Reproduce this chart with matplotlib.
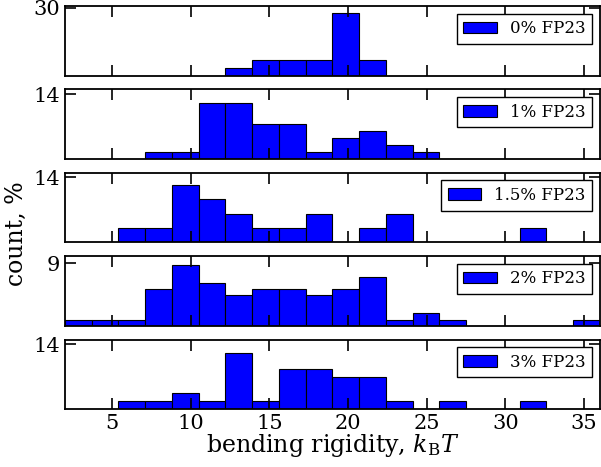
import matplotlib
matplotlib.use("Agg")
import matplotlib.pyplot as plt
import numpy as np

plt.rcParams['font.family'] = ['DejaVu Serif']
plt.rcParams['mathtext.fontset'] = 'dejavuserif'

# 20 bins of width 1.7 from 2 to 36
bin_edges = np.linspace(2, 36, 21)

labels = ['0% FP23', '1% FP23', '1.5% FP23', '2% FP23', '3% FP23']

# bar heights (percent) per bin
h_0 = [0, 0, 0, 0, 0, 0, 3.46, 6.92, 6.92, 6.92, 27.68, 6.92, 0, 0, 0, 0, 0, 0, 0, 0]
h_1 = [0, 0, 0, 1.51, 1.51, 12.07, 12.07, 7.54, 7.54, 1.51, 4.52, 6.03, 3.02, 1.51, 0, 0, 0, 0, 0, 0]
h_15 = [0, 0, 3.10, 3.10, 12.38, 9.29, 6.19, 3.10, 3.10, 6.19, 0, 3.10, 6.19, 0, 0, 0, 0, 3.10, 0, 0]
h_2 = [0.88, 0.88, 0.88, 5.27, 8.78, 6.15, 4.39, 5.27, 5.27, 4.39, 5.27, 7.02, 0.88, 1.76, 0.88, 0, 0, 0, 0, 0.88]
h_3 = [0, 0, 1.73, 1.73, 3.46, 1.73, 12.11, 1.73, 8.65, 8.65, 6.92, 6.92, 1.73, 0, 1.73, 0, 0, 1.73, 0, 0]

heights = [h_0, h_1, h_15, h_2, h_3]
y_top = [30.7, 15, 15, 10, 15]
y_tick = [30, 14, 14, 9, 14]

fig, axes = plt.subplots(5, 1, figsize=(6.01, 4.67), dpi=100, sharex=True)
fig.subplots_adjust(left=0.108, right=0.998, top=0.987, bottom=0.124, hspace=0.2)

for ax, h, lab, top, tk in zip(axes, heights, labels, y_top, y_tick):
    h = np.array(h)
    keep = h > 0
    ax.bar(bin_edges[:-1][keep], h[keep], width=np.diff(bin_edges)[keep], align='edge',
           color='#0000ff', edgecolor='black', linewidth=0.8, label=lab)
    ax.set_xlim(2, 36)
    ax.set_ylim(0, top)
    ax.set_yticks([tk])
    ax.set_xticks([5, 10, 15, 20, 25, 30, 35])
    ax.tick_params(direction='in', length=8, width=1.2, top=True, right=True, labelsize=15)
    for s in ax.spines.values():
        s.set_linewidth(1.3)
    leg = ax.legend(loc='upper right', fontsize=12, fancybox=False, framealpha=1,
                    edgecolor='black', borderaxespad=0.45)
    leg.get_frame().set_linewidth(1.0)

axes[-1].set_xlabel(r'bending rigidity, $k_\mathrm{B}T$', fontsize=17, labelpad=-1)
fig.text(0.027, 0.5, 'count, %', rotation=90, va='center', ha='center', fontsize=17)

fig.savefig('out.png', dpi=100)
